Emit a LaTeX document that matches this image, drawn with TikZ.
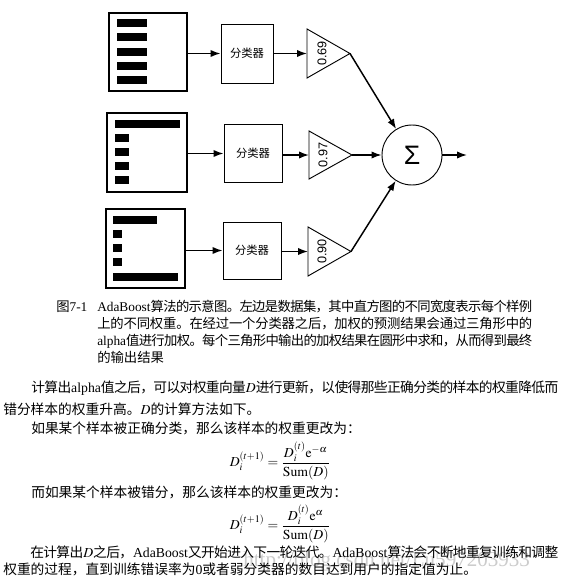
\documentclass[tikz,border=0pt]{standalone}
\usepackage{mathptmx}
\usepackage{fontspec}
\setmainfont{Liberation Serif}
\setsansfont{Liberation Sans}
\newfontfamily\cjkfont{Noto Sans CJK SC}
\usetikzlibrary{arrows.meta}
\newdimen\px \px=0.75pt
% automatic switching to the CJK font
\XeTeXinterchartokenstate=1
\newXeTeXintercharclass\cjkcls
\makeatletter
\count@="4E00 \loop \XeTeXcharclass\count@=\cjkcls \ifnum\count@<"9FFF \advance\count@ 1 \repeat
\count@="3000 \loop \XeTeXcharclass\count@=\cjkcls \ifnum\count@<"303F \advance\count@ 1 \repeat
\count@="FF00 \loop \XeTeXcharclass\count@=\cjkcls \ifnum\count@<"FFEF \advance\count@ 1 \repeat
\makeatother
\XeTeXinterchartoks 0 \cjkcls = {\cjkfont}
\XeTeXinterchartoks 4095 \cjkcls = {\cjkfont}
\XeTeXinterchartoks \cjkcls 0 = {\rmfamily}
\XeTeXinterchartoks \cjkcls \cjkcls = {\hskip 0pt plus 2pt minus 1pt}
\newcommand\txtline[6]{\node[#1] (#2) at (#3,#4) {\makebox[#5\px][s]{#6}};}
\newcommand\plainline[5]{\node[#1] (#2) at (#3,#4) {#5};}
\begin{document}
\begin{tikzpicture}[x=0.75pt,y=-0.75pt,
  databox/.style={draw,line width=0.8pt,minimum width=#1\px,inner sep=0pt},
  clf/.style={draw,line width=0.7pt,inner sep=0pt,font=\cjkfont\fontsize{8.5pt}{10pt}\selectfont},
  tri/.style={draw,line width=0.7pt},
  arr/.style={line width=1.1pt,-{Latex[length=7.5pt,width=5.5pt]}},
  alph/.style={font=\sffamily\fontsize{9.5pt}{11pt}\selectfont,rotate=90,inner sep=0pt},
  bodytxt/.style={anchor=base west,inner sep=0pt,font=\fontsize{10.3pt}{12pt}\selectfont},
  captxt/.style={anchor=base west,inner sep=0pt,font=\fontsize{10pt}{12pt}\selectfont},
  mathtxt/.style={inner sep=0pt,font=\fontsize{10.3pt}{12pt}\selectfont},
  wmark/.style={anchor=base west,inner sep=0pt,text=black!20,font=\fontsize{15.8pt}{16pt}\selectfont}]
\useasboundingbox (0,0) rectangle (573,585);
\fill[white] (0,0) rectangle (573,585);
% data sets
\node[databox=78,minimum height=78\px] (B1) at (148,52) {};
\node[databox=80,minimum height=79\px] (B2) at (147,152.5) {};
\node[databox=79,minimum height=79\px] (B3) at (145.5,248.5) {};
\foreach \y in {23,37,52,66,80} \fill (117,\y-4) rectangle (147,\y+4);
\fill (115,120) rectangle (180,128);
\foreach \y in {138,152,166,180} \fill (115,\y-4) rectangle (129,\y+4);
\fill (113,216) rectangle (157,224);
\foreach \y in {234,248,262} \fill (113,\y-4) rectangle (122,\y+4);
\fill (113,273) rectangle (178,281);
% classifiers
\node[clf,minimum width=52\px,minimum height=59\px] (C1) at (247,53.5) {分类器};
\node[clf,minimum width=58\px,minimum height=58\px] (C2) at (253,153.5) {分类器};
\node[clf,minimum width=58\px,minimum height=57\px] (C3) at (252,250.5) {分类器};
% triangles
\coordinate (T1in) at (307,53.5); \coordinate (T1tip) at (350,53.5);
\coordinate (T2in) at (309,155); \coordinate (T2tip) at (352,155);
\coordinate (T3in) at (308,251.5); \coordinate (T3tip) at (351,251.5);
\draw[tri] (307,29) -- (T1tip) -- (307,78) -- cycle;
\draw[tri] (309,131) -- (T2tip) -- (309,179) -- cycle;
\draw[tri] (308,227) -- (T3tip) -- (308,276) -- cycle;
\node[alph] (a1) at (322,53.5) {0.69};
\node[alph] (a2) at (323,155) {0.97};
\node[alph] (a3) at (322,251.5) {0.90};
% sum
\node[draw,circle,line width=0.7pt,minimum size=60\px,inner sep=0pt,font=\sffamily\fontsize{20pt}{20pt}\selectfont] (S) at (412,155) {Σ};
\coordinate (out) at (467,155);
% connectors
\draw[arr] (B1.east |- C1.west) -- (C1.west);
\draw[arr] (B2.east |- C2.west) -- (C2.west);
\draw[arr] (B3.east |- C3.west) -- (C3.west);
\draw[arr] (C1.east |- T1in) -- (T1in);
\draw[arr] (C2.east |- T2in) -- (T2in);
\draw[arr] (C3.east |- T3in) -- (T3in);
\draw[arr] (T1tip) -- (S);
\draw[arr] (T2tip) -- (S);
\draw[arr] (T3tip) -- (S);
\draw[arr] (S) -- (out);
% caption
\plainline{captxt}{fig}{56}{311}{图7-1}
\txtline{captxt}{c1}{97}{311}{435}{AdaBoost算法的示意图。左边是数据集，其中直方图的不同宽度表示每个样例}
\txtline{captxt}{c2}{97}{328}{435}{上的不同权重。在经过一个分类器之后，加权的预测结果会通过三角形中的}
\txtline{captxt}{c3}{97}{345}{435}{alpha值进行加权。每个三角形中输出的加权结果在圆形中求和，从而得到最终}
\plainline{captxt}{c4}{97}{362}{的输出结果}
% watermark
\plainline{wmark}{wm}{243}{566}{http://blog.csdn.net/Lu597203933}
% body
\txtline{bodytxt}{p1}{31}{392.5}{527}{计算出alpha值之后，可以对权重向量$D$进行更新，以使得那些正确分类的样本的权重降低而}
\plainline{bodytxt}{p2}{3}{414.5}{错分样本的权重升高。$D$的计算方法如下。}
\plainline{bodytxt}{p3}{31}{433}{如果某个样本被正确分类，那么该样本的权重更改为：}
\node[mathtxt] (f1) at (280,461) {$\displaystyle D_i^{(t+1)}=\frac{D_i^{(t)}\mathrm{e}^{-\alpha}}{\mathrm{Sum}(D)}$};
\plainline{bodytxt}{p4}{31}{497.5}{而如果某个样本被错分，那么该样本的权重更改为：}
\node[mathtxt] (f2) at (280,524) {$\displaystyle D_i^{(t+1)}=\frac{D_i^{(t)}\mathrm{e}^{\alpha}}{\mathrm{Sum}(D)}$};
\txtline{bodytxt}{p5}{30}{557.5}{528}{在计算出$D$之后，AdaBoost又开始进入下一轮迭代。AdaBoost算法会不断地重复训练和调整}
\plainline{bodytxt}{p6}{3}{574.5}{权重的过程，直到训练错误率为0或者弱分类器的数目达到用户的指定值为止。}
\end{tikzpicture}
\end{document}
